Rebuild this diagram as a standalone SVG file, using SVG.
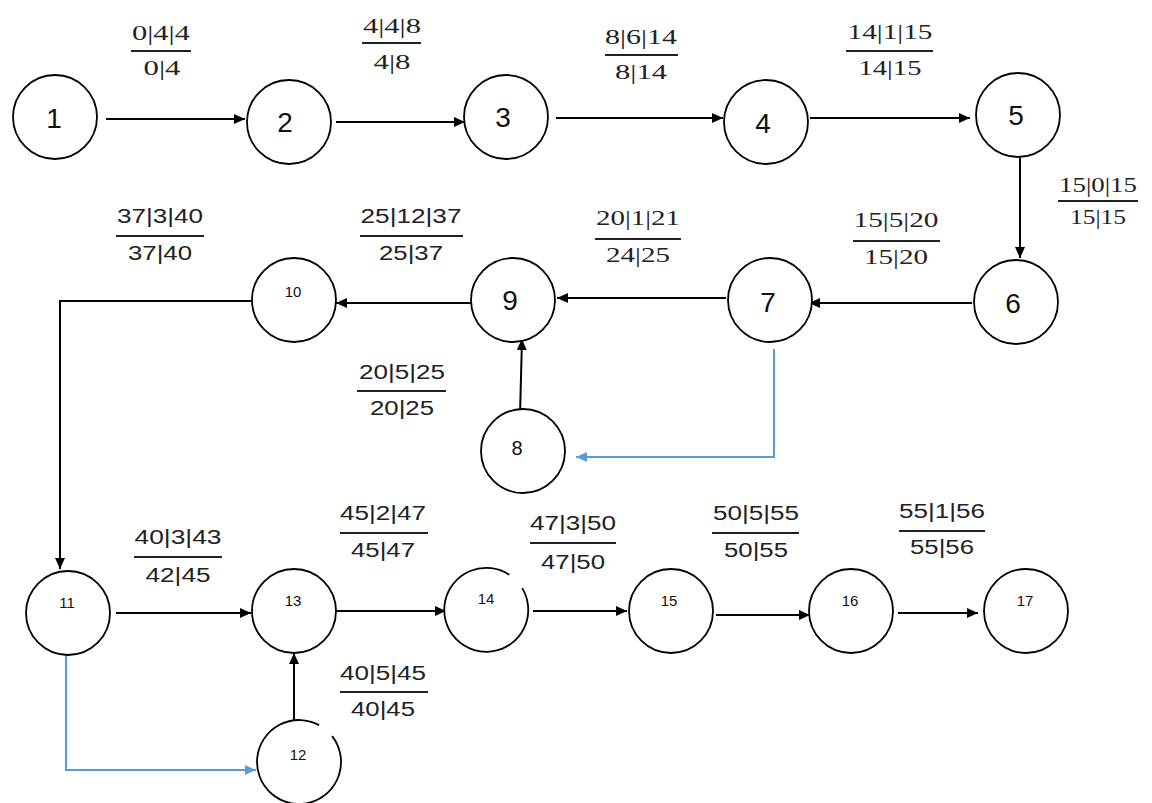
<svg xmlns="http://www.w3.org/2000/svg" width="1152" height="803" viewBox="0 0 1152 803">
  <style>
    .node { fill: #ffffff; stroke: #000000; stroke-width: 1.8; }
    .big { font-family: "Liberation Sans", "Open Sans", sans-serif; font-size: 28px; fill: #111; text-anchor: middle; }
    .mid { font-family: "Liberation Sans", "Open Sans", sans-serif; font-size: 20px; fill: #111; text-anchor: middle; }
    .small { font-family: "Liberation Sans", "Open Sans", sans-serif; font-size: 15px; fill: #111; text-anchor: middle; }
    .edge { fill: none; stroke: #000000; stroke-width: 2; }
    .blue { fill: none; stroke: #5B9BD5; stroke-width: 2; }
    .lbl { font-family: "Liberation Sans", "Open Sans", sans-serif; font-size: 20px; fill: #222; text-anchor: middle; }
    .lbl-s { font-family: "Liberation Serif", "DejaVu Serif", serif; font-size: 21px; fill: #222; text-anchor: middle; }
    .bar { stroke: #222; stroke-width: 2; }
  </style>
  <defs>
    <marker id="arrow" markerUnits="userSpaceOnUse" markerWidth="12" markerHeight="10" refX="11" refY="5" orient="auto">
      <path d="M0,0 L11,5 L0,10 z" fill="#000"/>
    </marker>
    <marker id="arrow-blue" markerUnits="userSpaceOnUse" markerWidth="12" markerHeight="10" refX="11" refY="5" orient="auto">
      <path d="M0,0 L11,5 L0,10 z" fill="#5B9BD5"/>
    </marker>
  </defs>

  <rect width="1152" height="803" fill="#ffffff"/>

  <!-- activity arrows -->
  <g id="connectors">
    <line class="edge" x1="106" y1="119" x2="245" y2="119" marker-end="url(#arrow)"/>
    <line class="edge" x1="336" y1="122" x2="465" y2="122" marker-end="url(#arrow)"/>
    <line class="edge" x1="556" y1="118" x2="723" y2="118" marker-end="url(#arrow)"/>
    <line class="edge" x1="810" y1="118" x2="970" y2="118" marker-end="url(#arrow)"/>
    <line class="edge" x1="1020" y1="158" x2="1020" y2="258" marker-end="url(#arrow)"/>
    <line class="edge" x1="972" y1="303" x2="809" y2="303" marker-end="url(#arrow)"/>
    <line class="edge" x1="726" y1="298" x2="557" y2="298" marker-end="url(#arrow)"/>
    <line class="edge" x1="474" y1="303" x2="336" y2="303" marker-end="url(#arrow)"/>
    <line class="edge" x1="520" y1="415" x2="522" y2="339" marker-end="url(#arrow)"/>
    <polyline class="edge" points="252,301 60,301 60,569" marker-end="url(#arrow)"/>
    <polyline class="blue" points="774,349 774,457 576,457" marker-end="url(#arrow-blue)"/>
    <line class="edge" x1="116" y1="613" x2="251" y2="613" marker-end="url(#arrow)"/>
    <line class="edge" x1="294" y1="723" x2="294" y2="653" marker-end="url(#arrow)"/>
    <polyline class="blue" points="66,655 66,770 256,770" marker-end="url(#arrow-blue)"/>
    <line class="edge" x1="336" y1="611" x2="446" y2="611" marker-end="url(#arrow)"/>
    <line class="edge" x1="533" y1="611" x2="627" y2="611" marker-end="url(#arrow)"/>
    <line class="edge" x1="716" y1="615" x2="810" y2="615" marker-end="url(#arrow)"/>
    <line class="edge" x1="898" y1="613" x2="978" y2="613" marker-end="url(#arrow)"/>
  </g>

  <!-- events -->
  <g id="node-1"><circle class="node" cx="55" cy="117" r="42"/><text class="big" x="54" y="128">1</text></g>
  <g id="node-2"><circle class="node" cx="289" cy="122" r="42"/><text class="big" x="285" y="132">2</text></g>
  <g id="node-3"><circle class="node" cx="506" cy="117" r="42"/><text class="big" x="503" y="127">3</text></g>
  <g id="node-4"><circle class="node" cx="766" cy="122" r="42"/><text class="big" x="763" y="133">4</text></g>
  <g id="node-5"><circle class="node" cx="1018" cy="115" r="42"/><text class="big" x="1016" y="125">5</text></g>
  <g id="node-6"><circle class="node" cx="1016" cy="302" r="42"/><text class="big" x="1013" y="313">6</text></g>
  <g id="node-7"><circle class="node" cx="770" cy="300" r="42"/><text class="big" x="768" y="312">7</text></g>
  <g id="node-8"><circle class="node" cx="523" cy="451" r="42"/><text class="mid" x="517" y="455">8</text></g>
  <g id="node-9"><circle class="node" cx="513" cy="300" r="42"/><text class="big" x="510" y="310">9</text></g>
  <g id="node-10"><circle class="node" cx="294" cy="300" r="42"/><text class="small" x="293" y="297">10</text></g>
  <g id="node-11"><circle class="node" cx="68" cy="613" r="42"/><text class="small" x="67" y="608">11</text></g>
  <g id="node-12"><path class="node" d="M 319.1 725.1 A 42 42 0 1 0 332.1 736.1" fill="#fff"/><text class="small" x="298" y="760">12</text></g>
  <g id="node-13"><circle class="node" cx="294" cy="611" r="42"/><text class="small" x="293" y="606">13</text></g>
  <g id="node-14"><path class="node" d="M 509.3 574.7 A 42 42 0 1 0 522.2 588.1"/><text class="small" x="486" y="604">14</text></g>
  <g id="node-15"><circle class="node" cx="671" cy="611" r="42"/><text class="small" x="669" y="606">15</text></g>
  <g id="node-16"><circle class="node" cx="851" cy="611" r="42"/><text class="small" x="850" y="606">16</text></g>
  <g id="node-17"><circle class="node" cx="1026" cy="611" r="42"/><text class="small" x="1025" y="606">17</text></g>

  <!-- activity times: ES|D|EF over LS|LF -->
  <g id="labels">
    <text class="lbl-s" x="161" y="40" textLength="58" lengthAdjust="spacingAndGlyphs">0|4|4</text>
    <line class="bar" x1="131" y1="51" x2="191" y2="51"/>
    <text class="lbl-s" x="162" y="75" textLength="37" lengthAdjust="spacingAndGlyphs">0|4</text>

    <text class="lbl-s" x="392" y="33" textLength="58" lengthAdjust="spacingAndGlyphs">4|4|8</text>
    <line class="bar" x1="362" y1="43" x2="421" y2="43"/>
    <text class="lbl-s" x="392" y="69" textLength="37" lengthAdjust="spacingAndGlyphs">4|8</text>

    <text class="lbl-s" x="641" y="44" textLength="72" lengthAdjust="spacingAndGlyphs">8|6|14</text>
    <line class="bar" x1="605" y1="55" x2="678" y2="55"/>
    <text class="lbl-s" x="641" y="79" textLength="52" lengthAdjust="spacingAndGlyphs">8|14</text>

    <text class="lbl-s" x="890" y="39" textLength="85" lengthAdjust="spacingAndGlyphs">14|1|15</text>
    <line class="bar" x1="846" y1="51" x2="933" y2="51"/>
    <text class="lbl-s" x="890" y="75" textLength="63" lengthAdjust="spacingAndGlyphs">14|15</text>

    <text class="lbl-s" x="1098" y="192" textLength="78" lengthAdjust="spacingAndGlyphs">15|0|15</text>
    <line class="bar" x1="1058" y1="201" x2="1138" y2="201"/>
    <text class="lbl-s" x="1098" y="224" textLength="56" lengthAdjust="spacingAndGlyphs">15|15</text>

    <text class="lbl-s" x="896" y="227" textLength="85" lengthAdjust="spacingAndGlyphs">15|5|20</text>
    <line class="bar" x1="853" y1="241" x2="940" y2="241"/>
    <text class="lbl-s" x="896" y="264" textLength="64" lengthAdjust="spacingAndGlyphs">15|20</text>

    <text class="lbl-s" x="638" y="225" textLength="84" lengthAdjust="spacingAndGlyphs">20|1|21</text>
    <line class="bar" x1="595" y1="239" x2="681" y2="239"/>
    <text class="lbl-s" x="638" y="262" textLength="64" lengthAdjust="spacingAndGlyphs">24|25</text>

    <text class="lbl" x="411" y="223" textLength="101" lengthAdjust="spacingAndGlyphs">25|12|37</text>
    <line class="bar" x1="360" y1="236" x2="463" y2="236"/>
    <text class="lbl" x="411" y="260" textLength="64" lengthAdjust="spacingAndGlyphs">25|37</text>

    <text class="lbl" x="160" y="223" textLength="86" lengthAdjust="spacingAndGlyphs">37|3|40</text>
    <line class="bar" x1="116" y1="236" x2="204" y2="236"/>
    <text class="lbl" x="160" y="260" textLength="64" lengthAdjust="spacingAndGlyphs">37|40</text>

    <text class="lbl" x="402" y="379" textLength="86" lengthAdjust="spacingAndGlyphs">20|5|25</text>
    <line class="bar" x1="357" y1="391" x2="446" y2="391"/>
    <text class="lbl" x="402" y="415" textLength="64" lengthAdjust="spacingAndGlyphs">20|25</text>

    <text class="lbl" x="178" y="544" textLength="87" lengthAdjust="spacingAndGlyphs">40|3|43</text>
    <line class="bar" x1="134" y1="557" x2="222" y2="557"/>
    <text class="lbl" x="178" y="582" textLength="65" lengthAdjust="spacingAndGlyphs">42|45</text>

    <text class="lbl" x="383" y="520" textLength="86" lengthAdjust="spacingAndGlyphs">45|2|47</text>
    <line class="bar" x1="340" y1="533" x2="428" y2="533"/>
    <text class="lbl" x="383" y="557" textLength="64" lengthAdjust="spacingAndGlyphs">45|47</text>

    <text class="lbl" x="383" y="680" textLength="86" lengthAdjust="spacingAndGlyphs">40|5|45</text>
    <line class="bar" x1="340" y1="692" x2="428" y2="692"/>
    <text class="lbl" x="383" y="716" textLength="64" lengthAdjust="spacingAndGlyphs">40|45</text>

    <text class="lbl" x="573" y="530" textLength="86" lengthAdjust="spacingAndGlyphs">47|3|50</text>
    <line class="bar" x1="530" y1="543" x2="616" y2="543"/>
    <text class="lbl" x="573" y="569" textLength="64" lengthAdjust="spacingAndGlyphs">47|50</text>

    <text class="lbl" x="756" y="520" textLength="86" lengthAdjust="spacingAndGlyphs">50|5|55</text>
    <line class="bar" x1="712" y1="533" x2="799" y2="533"/>
    <text class="lbl" x="756" y="557" textLength="64" lengthAdjust="spacingAndGlyphs">50|55</text>

    <text class="lbl" x="942" y="518" textLength="86" lengthAdjust="spacingAndGlyphs">55|1|56</text>
    <line class="bar" x1="899" y1="531" x2="985" y2="531"/>
    <text class="lbl" x="942" y="554" textLength="64" lengthAdjust="spacingAndGlyphs">55|56</text>
  </g>
</svg>
